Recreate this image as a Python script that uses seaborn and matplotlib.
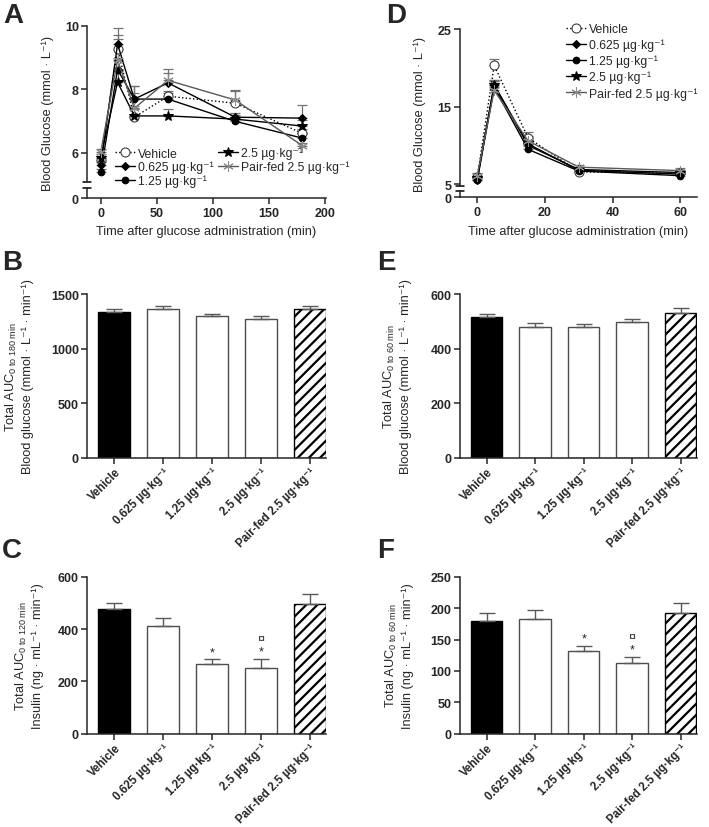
import numpy as np
import matplotlib
matplotlib.use('Agg')
import matplotlib.pyplot as plt
import seaborn as sns

sns.set_style('ticks')
plt.rcParams['font.family'] = ['Liberation Sans', 'DejaVu Sans']
plt.rcParams['mathtext.fontset'] = 'custom'
plt.rcParams['mathtext.rm'] = 'Liberation Sans'
plt.rcParams['mathtext.it'] = 'Liberation Sans:italic'
plt.rcParams['mathtext.bf'] = 'Liberation Sans:bold'
plt.rcParams['hatch.linewidth'] = 1.6
plt.rcParams['axes.linewidth'] = 1.1

# ---- data ----
unit = ' µg·kg⁻¹'
series_names = ['Vehicle', '0.625' + unit, '1.25' + unit, '2.5' + unit, 'Pair-fed 2.5' + unit]
bar_labels = ['Vehicle', '0.625' + unit, '1.25' + unit, '2.5' + unit, 'Pair-fed 2.5' + unit]

# panel A: blood glucose during 180 min test
time_a = [0, 15, 30, 60, 120, 180]
vehicle_a = [5.78, 9.26, 7.12, 7.78, 7.56, 6.61]
d0625_a = [5.62, 9.42, 7.69, 8.20, 7.12, 7.09]
d125_a = [5.38, 8.62, 7.69, 7.69, 6.99, 6.46]
d25_a = [5.85, 8.22, 7.16, 7.16, 7.06, 6.84]
pairfed_a = [6.02, 8.92, 7.40, 8.28, 7.66, 6.22]
vehicle_a_err = [0.12, 0.45, 0.25, 0.17, 0.42, 0.15]
d0625_a_err = [0.10, 0.50, 0.42, 0.30, 0.12, 0.42]
d125_a_err = [0.10, 0.35, 0.20, 0.20, 0.10, 0.15]
d25_a_err = [0.12, 0.35, 0.30, 0.22, 0.12, 0.20]
pairfed_a_err = [0.10, 0.65, 0.70, 0.35, 0.30, 0.10]

# panel D: blood glucose during 60 min test
time_d = [0, 5, 15, 30, 60]
vehicle_d = [5.9, 20.3, 11.0, 6.6, 6.4]
d0625_d = [5.6, 17.8, 10.2, 6.8, 6.3]
d125_d = [5.5, 17.5, 9.5, 6.7, 6.1]
d25_d = [5.8, 17.8, 10.0, 6.9, 6.5]
pairfed_d = [6.1, 17.1, 10.6, 7.2, 6.75]
vehicle_d_err = [0.4, 0.8, 0.7, 0.2, 0.2]
d0625_d_err = [0.3, 0.6, 0.5, 0.3, 0.3]
d125_d_err = [0.3, 0.5, 0.4, 0.2, 0.2]
d25_d_err = [0.3, 0.6, 0.5, 0.2, 0.3]
pairfed_d_err = [0.4, 1.2, 0.6, 0.3, 0.4]

# AUC bars
auc_glu_180 = [1340, 1365, 1298, 1273, 1365]
auc_glu_180_err = [22, 28, 20, 25, 27]
auc_glu_60 = [516, 479, 481, 500, 531]
auc_glu_60_err = [13, 15, 10, 11, 20]
auc_ins_120 = [476, 410, 266, 252, 495]
auc_ins_120_err = [24, 34, 18, 35, 40]
auc_ins_60 = [180, 183, 131, 112.6, 191.7]
auc_ins_60_err = [11.7, 14.5, 9, 10, 16.3]

# ---- styles ----
line_styles = [
    dict(color='black', linestyle=':', marker='o', markersize=6.5, markerfacecolor='white', markeredgecolor='0.2'),
    dict(color='black', linestyle='-', marker='D', markersize=3.8, markerfacecolor='black', markeredgecolor='black'),
    dict(color='black', linestyle='-', marker='o', markersize=4.8, markerfacecolor='black', markeredgecolor='black'),
    dict(color='black', linestyle='-', marker='*', markersize=7.5, markerfacecolor='black', markeredgecolor='black'),
    dict(color='0.35', linestyle='-', marker=(6, 2, 0), markersize=7.5, markerfacecolor='0.55', markeredgecolor='0.55'),
]
bar_colors = ['black', 'white', 'white', 'white', 'white']

TICK_FS = 9
LABEL_FS = 9.2
LEGEND_FS = 8.8
BAR_LABEL_FS = 8.3

W, H = 709, 828
fig = plt.figure(figsize=(W / 100, H / 100), dpi=100)


def rect(l, t, r, b):
    return [l / W, 1 - b / H, (r - l) / W, (b - t) / H]


def bold_ticks(ax):
    for lbl in ax.get_xticklabels() + ax.get_yticklabels():
        lbl.set_fontweight('bold')


def break_mark(ax, y):
    w = ax.get_position().width * W
    d = 4 / w
    ax.plot([-d, d], [y, y], transform=ax.transAxes, color='black', lw=1.1, clip_on=False)


def line_panel(ax, axb, times, values, errors, xlim, ylim, yticks, xticks):
    for name, vals, err, st in zip(series_names, values, errors, line_styles):
        sns.lineplot(x=times, y=vals, ax=ax, label=name, lw=1.0, zorder=3, **st)
        ax.errorbar(times, vals, yerr=[np.zeros(len(err)), err], fmt='none',
                    ecolor='0.45', elinewidth=0.9, capsize=3.5, capthick=0.9, zorder=2)
    ax.set_xlim(xlim)
    ax.set_ylim(ylim)
    ax.set_yticks(yticks)
    for s in ['top', 'right', 'bottom']:
        ax.spines[s].set_visible(False)
    ax.tick_params(axis='x', bottom=False, labelbottom=False)
    ax.tick_params(axis='y', direction='out', length=4, width=1.1, labelsize=TICK_FS, pad=2)
    ax.set_xlabel('')
    ax.set_ylabel('')
    ax.patch.set_visible(False)
    ax.set_zorder(3)
    break_mark(ax, 0)

    axb.set_xlim(xlim)
    axb.set_ylim(0, 1)
    axb.set_yticks([0])
    axb.set_xticks(xticks)
    axb.patch.set_visible(False)
    for s in ['top', 'right']:
        axb.spines[s].set_visible(False)
    axb.tick_params(direction='out', length=4, width=1.1, labelsize=TICK_FS, pad=2)
    break_mark(axb, 1)
    bold_ticks(ax)
    bold_ticks(axb)


def bar_panel(ax, vals, errs, ylim, yticks, sig=None):
    sns.barplot(x=bar_labels, y=vals, hue=bar_labels, palette=bar_colors, ax=ax,
                width=0.65, saturation=1, edgecolor='0.3', linewidth=1.0, legend=False)
    ax.patches[0].set_edgecolor('black')
    ax.patches[4].set_edgecolor('black')
    ax.patches[4].set_hatch('///')
    ax.errorbar(range(5), vals, yerr=[np.zeros(5), errs], fmt='none', ecolor='0.35',
                elinewidth=1.0, capsize=5.5, capthick=1.0, zorder=1)
    ax.set_xlim(-0.55, 4.33)
    ax.set_ylim(ylim)
    ax.set_yticks(yticks)
    ax.set_xticks(range(5))
    ax.set_xticklabels(bar_labels, rotation=45, ha='right', rotation_mode='anchor')
    ax.tick_params(direction='out', length=4, width=1.1, labelsize=TICK_FS, pad=2)
    ax.tick_params(axis='x', labelsize=BAR_LABEL_FS, pad=1.5)
    sns.despine(ax=ax)
    ax.set_xlabel('')
    ax.set_ylabel('')
    bold_ticks(ax)
    if sig:
        for i, marks in sig.items():
            top = vals[i] + errs[i]
            for k, m in enumerate(marks):
                ax.annotate(m, xy=(i, top), xytext=(0, 1 + 9 * k), textcoords='offset points',
                            ha='center', va='bottom', fontsize=9, color='0.15')


# ---- panel A ----
axA = fig.add_axes(rect(87.3, 26.7, 326, 183.3))
axAb = fig.add_axes(rect(87.3, 189.3, 326, 199.3))
line_panel(axA, axAb, time_a,
           [vehicle_a, d0625_a, d125_a, d25_a, pairfed_a],
           [vehicle_a_err, d0625_a_err, d125_a_err, d25_a_err, pairfed_a_err],
           (-12, 201), (5.07, 10), [6, 8, 10], [0, 50, 100, 150, 200])
axA.legend(loc='upper left', bbox_to_anchor=(115 / W, 1 - 148 / H), bbox_transform=fig.transFigure,
           ncol=2, frameon=False, fontsize=LEGEND_FS, borderpad=0, borderaxespad=0,
           handlelength=1.6, handletextpad=0.3, columnspacing=0.35, labelspacing=0.12)

# ---- panel D ----
axD = fig.add_axes(rect(460, 30, 696.7, 187))
axDb = fig.add_axes(rect(460, 191.5, 696.7, 198.3))
line_panel(axD, axDb, time_d,
           [vehicle_d, d0625_d, d125_d, d25_d, pairfed_d],
           [vehicle_d_err, d0625_d_err, d125_d_err, d25_d_err, pairfed_d_err],
           (-5.1, 64.9), (4.77, 25), [5, 15, 25], [0, 20, 40, 60])
axD.legend(loc='upper left', bbox_to_anchor=(566 / W, 1 - 24 / H), bbox_transform=fig.transFigure,
           ncol=1, frameon=False, fontsize=LEGEND_FS, borderpad=0, borderaxespad=0,
           handlelength=1.6, handletextpad=0.3, labelspacing=0.3)

for x in [206.6, 578.3]:
    fig.text(x / W, 1 - 232 / H, 'Time after glucose administration (min)', ha='center', va='center', fontsize=LABEL_FS)
fig.text(48 / W, 1 - 113 / H, 'Blood Glucose (mmol · L⁻¹)', rotation=90, ha='center', va='center', fontsize=LABEL_FS)
fig.text(420 / W, 1 - 114 / H, 'Blood Glucose (mmol · L⁻¹)', rotation=90, ha='center', va='center', fontsize=LABEL_FS)

# ---- bar panels ----
axB = fig.add_axes(rect(87.3, 295.3, 326, 458.8))
bar_panel(axB, auc_glu_180, auc_glu_180_err, (0, 1500), [0, 500, 1000, 1500])
axE = fig.add_axes(rect(460, 295.3, 696.7, 458.8))
bar_panel(axE, auc_glu_60, auc_glu_60_err, (0, 600), [0, 200, 400, 600])
axC = fig.add_axes(rect(87.3, 577.7, 326, 734.7))
bar_panel(axC, auc_ins_120, auc_ins_120_err, (0, 600), [0, 200, 400, 600],
          sig={2: ['*'], 3: ['*', '¤']})
axF = fig.add_axes(rect(460, 577.7, 696.7, 734.7))
bar_panel(axF, auc_ins_60, auc_ins_60_err, (0, 250), [0, 50, 100, 150, 200, 250],
          sig={2: ['*'], 3: ['*', '¤']})

glu_unit = 'Blood glucose (mmol · L⁻¹ · min⁻¹)'
ins_unit = 'Insulin (ng · mL⁻¹ · min⁻¹)'
ylabels = [
    (19, 377, r'Total AUC$_{\mathregular{0\ to\ 180\ min}}$' + '\n' + glu_unit),
    (397, 377, r'Total AUC$_{\mathregular{0\ to\ 60\ min}}$' + '\n' + glu_unit),
    (29, 656, r'Total AUC$_{\mathregular{0\ to\ 120\ min}}$' + '\n' + ins_unit),
    (399, 656, r'Total AUC$_{\mathregular{0\ to\ 60\ min}}$' + '\n' + ins_unit),
]
for x, y, txt in ylabels:
    fig.text(x / W, 1 - y / H, txt, rotation=90, ha='center', va='center', fontsize=LABEL_FS,
             multialignment='center', linespacing=1.3)

# panel letters
for letter, x, y in [('A', 3, 3), ('B', 2, 250), ('C', 2, 538), ('D', 386, 3), ('E', 377, 250), ('F', 377, 538)]:
    fig.text(x / W, 1 - y / H, letter, ha='left', va='top', fontsize=20, fontweight='bold')

fig.savefig('out.png', dpi=100)
